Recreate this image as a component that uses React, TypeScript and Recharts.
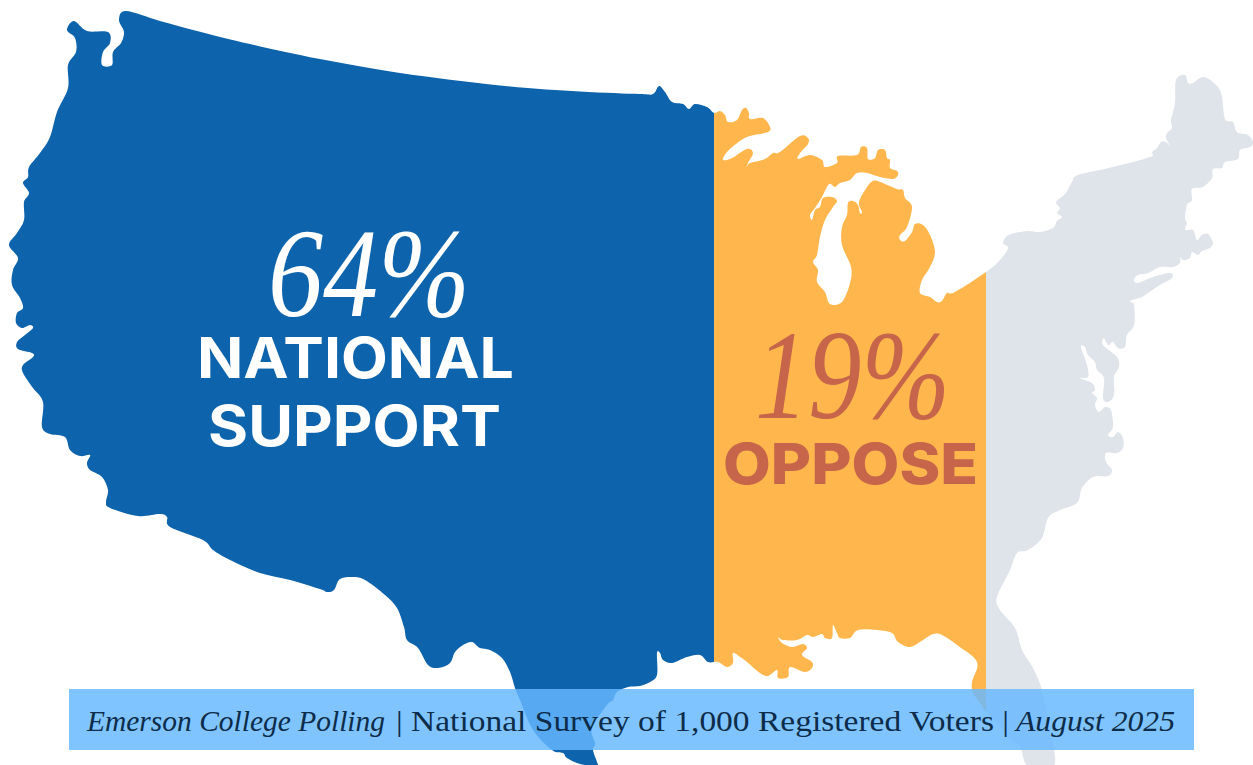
import React from 'react';
import { BarChart, Bar, XAxis, YAxis } from 'recharts';

// share of the map width each band covers (the map is not to scale)
const categories = ['Poll'];
const supportBand = [56.71];
const opposeBand = [21.85];
const restBand = [21.44];

const supportPct = 64;
const opposePct = 19;
const supportLines = ['NATIONAL', 'SUPPORT'];
const opposeLine = 'OPPOSE';
const footerSource = 'Emerson College Polling';
const footerMiddle = '| National Survey of 1,000 Registered Voters |';
const footerDate = 'August 2025';

const BLUE = '#0d63ac';
const ORANGE = '#ffb74d';
const GREY = '#dee4ea';
const RUST = '#c6654a';
const NAVY = '#0c2c4a';

// traced outline of the map, only used as a clip shape for the stacked bar
const outline: [number, number][] = [
  [126, 11], [160, 20.9], [200, 31.7], [250, 44], [320, 59], [400, 72.9], [500, 85.4], [580, 91.5], [640, 94], [653, 94],
  [659, 86], [665, 92], [672, 102], [683, 104], [689, 109], [695, 104], [707, 107], [714, 113], [720, 111], [725, 115],
  [728, 122], [737, 120], [742, 110], [746, 108], [749, 113], [750, 119], [763, 118], [770, 127], [768, 132], [750, 136],
  [740, 141], [727, 152], [723, 160], [732, 158], [747, 149], [753, 153], [748, 163], [747, 167], [750, 163], [765, 159],
  [773, 153], [780, 152], [800, 136], [808, 138], [808, 144], [800, 153], [798, 159], [810, 155], [822, 160], [825, 167],
  [837, 163], [838, 156], [857, 155], [861, 147], [867, 148], [868, 159], [875, 158], [878, 150], [885, 150], [887, 158],
  [890, 160], [890, 168], [897, 171], [898, 175], [893, 179], [880, 177], [867, 173], [857, 173], [850, 180], [840, 183],
  [835, 187], [829, 184], [822, 197], [815, 208], [810, 215], [812, 220], [815, 210], [820, 207], [823, 198], [832, 197],
  [837, 201], [833, 207], [825, 220], [820, 237], [817, 255], [813, 262], [818, 270], [817, 282], [825, 292], [830, 304],
  [842, 302], [850, 283], [851, 267], [842, 245], [842, 227], [847, 215], [848, 203], [853, 201], [858, 205], [860, 213],
  [862, 212], [859, 202], [867, 187], [873, 181], [880, 182], [897, 189], [903, 190], [905, 198], [912, 207], [907, 227],
  [900, 235], [900, 240], [905, 241], [912, 232], [915, 224], [923, 225], [930, 235], [935, 252], [930, 267], [922, 280],
  [920, 293], [930, 297], [937, 302], [942, 301], [947, 293], [955, 292], [986, 272], [1000, 260], [1008, 248], [1003, 243],
  [1007, 236], [1015, 233], [1028, 231], [1040, 232], [1053, 228], [1057, 221], [1062, 217], [1057, 213], [1060, 208], [1056, 202],
  [1065, 194], [1072, 182], [1078, 175], [1113, 167], [1150, 157], [1152, 152], [1157, 148], [1161, 142], [1166, 142], [1170, 146],
  [1166, 138], [1167, 133], [1172, 128], [1171, 120], [1175, 103], [1176, 80], [1185, 75], [1188, 83], [1193, 83], [1200, 78],
  [1207, 78], [1218, 87], [1222, 97], [1225, 119], [1233, 122], [1237, 132], [1248, 135], [1253, 142], [1250, 147], [1240, 150],
  [1238, 159], [1225, 162], [1222, 168], [1213, 169], [1212, 178], [1203, 187], [1192, 189], [1192, 200], [1187, 205], [1185, 218],
  [1187, 223], [1185, 230], [1193, 230], [1197, 240], [1202, 235], [1208, 234], [1213, 243], [1210, 248], [1202, 251], [1198, 255],
  [1192, 252], [1190, 258], [1183, 260], [1180, 257], [1180, 263], [1173, 267], [1160, 267], [1148, 273], [1138, 275], [1134, 280],
  [1138, 283], [1153, 277], [1170, 273], [1172, 278], [1160, 285], [1148, 293], [1142, 297], [1130, 301], [1134, 305], [1134, 325],
  [1127, 335], [1125, 347], [1118, 348], [1113, 342], [1108, 345], [1104, 338], [1103, 345], [1117, 357], [1119, 367], [1114, 377],
  [1114, 395], [1108, 402], [1103, 398], [1104, 378], [1097, 370], [1095, 362], [1088, 355], [1085, 347], [1081, 347], [1087, 365],
  [1088, 377], [1080, 378], [1092, 383], [1095, 390], [1092, 393], [1097, 398], [1095, 405], [1099, 412], [1105, 407], [1111, 410],
  [1113, 427], [1108, 435], [1113, 437], [1118, 432], [1123, 438], [1123, 448], [1117, 453], [1106, 453], [1106, 462], [1112, 470],
  [1108, 476], [1093, 477], [1082, 488], [1077, 503], [1060, 510], [1048, 518], [1042, 538], [1028, 550], [1017, 553], [1010, 570],
  [997, 597], [1000, 610], [1015, 628], [1022, 650], [1033, 668], [1042, 690], [1050, 730], [1054, 766], [1028, 766], [1020, 747],
  [1007, 737], [998, 723], [987, 713], [980, 703], [973, 693], [972, 682], [977, 662], [957, 645], [942, 635], [933, 634],
  [923, 640], [910, 647], [898, 642], [892, 633], [877, 630], [858, 630], [850, 638], [840, 638], [837, 633], [833, 625],
  [832, 638], [825, 638], [822, 634], [813, 637], [807, 635], [797, 640], [783, 640], [778, 637], [782, 643], [792, 647],
  [803, 644], [807, 648], [802, 655], [812, 662], [812, 668], [805, 672], [790, 667], [788, 677], [778, 678], [777, 670],
  [768, 676], [760, 673], [747, 662], [740, 657], [733, 653], [733, 663], [727, 667], [718, 662], [708, 662], [700, 655],
  [687, 657], [672, 663], [663, 660], [660, 653], [657, 653], [657, 675], [650, 682], [640, 686], [628, 687], [617, 692],
  [613, 700], [607, 705], [592, 728], [595, 743], [593, 750], [597, 762], [597, 766], [580, 764], [567, 758], [563, 753],
  [552, 750], [533, 730], [520, 700], [515, 688], [510, 672], [502, 658], [490, 650], [480, 648], [472, 642], [463, 645],
  [455, 652], [450, 663], [438, 668], [428, 665], [418, 648], [407, 640], [404, 627], [397, 608], [385, 595], [365, 580],
  [353, 577], [340, 579], [334, 590], [327, 592], [320, 589], [290, 580], [260, 573], [230, 560], [213, 550], [203, 540],
  [170, 527], [167, 517], [160, 514], [138, 516], [110, 508], [106, 502], [108, 490], [102, 477], [90, 470], [87, 463],
  [90, 455], [80, 456], [70, 450], [65, 437], [50, 434], [42, 427], [43, 402], [33, 388], [23, 373], [23, 365],
  [33, 357], [32, 353], [18, 349], [17, 342], [25, 335], [33, 328], [30, 325], [22, 328], [16, 323], [17, 313],
  [23, 308], [20, 298], [12, 285], [13, 270], [18, 258], [9, 245], [17, 233], [24, 220], [24, 202], [29, 193],
  [23, 183], [28, 177], [29, 167], [40, 153], [50, 137], [57, 112], [68, 88], [68, 65], [76, 52], [75, 38],
  [67, 30], [74, 21], [87, 31], [108, 32], [110, 43], [103, 52], [102, 65], [112, 65], [113, 52], [121, 43],
  [124, 32], [119, 20],
];

// closed catmull-rom through the traced points
function smoothPath(pts: [number, number][]): string {
  const n = pts.length;
  let d = `M${pts[0][0]},${pts[0][1]}`;
  for (let i = 0; i < n; i++) {
    const p0 = pts[(i - 1 + n) % n];
    const p1 = pts[i];
    const p2 = pts[(i + 1) % n];
    const p3 = pts[(i + 2) % n];
    const c1x = p1[0] + (p2[0] - p0[0]) / 6;
    const c1y = p1[1] + (p2[1] - p0[1]) / 6;
    const c2x = p2[0] - (p3[0] - p1[0]) / 6;
    const c2y = p2[1] - (p3[1] - p1[1]) / 6;
    d += `C${c1x.toFixed(1)},${c1y.toFixed(1)} ${c2x.toFixed(1)},${c2y.toFixed(1)} ${p2[0]},${p2[1]}`;
  }
  return d + 'Z';
}

const data = categories.map((name, i) => ({
  name,
  support: supportBand[i],
  oppose: opposeBand[i],
  rest: restBand[i],
}));

const ClippedBand = ({ x, y, width, height, fill }: any) => (
  <rect x={x} y={y} width={width} height={height} fill={fill} clipPath="url(#usaClip)" />
);

const NUM_FONT = '"Liberation Serif", serif';
const HEAD_FONT = 'Inter, "Open Sans", sans-serif';

export default function App() {
  return (
    <div style={{ position: 'absolute', left: 0, top: 0, width: 1253, height: 765, overflow: 'hidden', background: '#fff' }}>
      <BarChart
        width={1253}
        height={765}
        data={data}
        layout="vertical"
        barCategoryGap={0}
        margin={{ top: 0, right: 0, bottom: 0, left: 8 }}
      >
        <defs>
          <clipPath id="usaClip">
            <path d={smoothPath(outline)} />
          </clipPath>
        </defs>
        <XAxis type="number" domain={[0, 100]} hide />
        <YAxis type="category" dataKey="name" hide />
        <Bar dataKey="support" stackId="a" fill={BLUE} shape={ClippedBand} isAnimationActive={false} />
        <Bar dataKey="oppose" stackId="a" fill={ORANGE} shape={ClippedBand} isAnimationActive={false} />
        <Bar dataKey="rest" stackId="a" fill={GREY} shape={ClippedBand} isAnimationActive={false} />
      </BarChart>

      {/* recharts draws its series above svg children, so the captions sit on their own layer */}
      <svg width={1253} height={765} style={{ position: 'absolute', left: 0, top: 0 }}>
        <text x={268} y={316} fontFamily={NUM_FONT} fontStyle="italic" fontSize={128} fill="#fff" textLength={202} lengthAdjust="spacingAndGlyphs">
          {supportPct}%
        </text>
        <text x={197} y={378} fontFamily={HEAD_FONT} fontWeight={700} fontSize={56} fill="#fff" textLength={317} lengthAdjust="spacingAndGlyphs">
          {supportLines[0]}
        </text>
        <text x={208} y={446} fontFamily={HEAD_FONT} fontWeight={700} fontSize={56} fill="#fff" textLength={293} lengthAdjust="spacingAndGlyphs">
          {supportLines[1]}
        </text>
        <text x={755} y={418} fontFamily={NUM_FONT} fontStyle="italic" fontSize={128} fill={RUST} textLength={195} lengthAdjust="spacingAndGlyphs">
          {opposePct}%
        </text>
        <text x={723} y={484} fontFamily={HEAD_FONT} fontWeight={800} fontSize={56} fill={RUST} textLength={255} lengthAdjust="spacingAndGlyphs">
          {opposeLine}
        </text>

        <rect x={69} y={689} width={1125} height={61} fill="#66b8ff" fillOpacity={0.83} />
        <text x={87} y={731} fontFamily={NUM_FONT} fontStyle="italic" fontSize={29} fill={NAVY} textLength={298} lengthAdjust="spacingAndGlyphs">
          {footerSource}
        </text>
        <text x={396} y={731} fontFamily={NUM_FONT} fontSize={29} fill={NAVY} textLength={613} lengthAdjust="spacingAndGlyphs">
          {footerMiddle}
        </text>
        <text x={1016} y={731} fontFamily={NUM_FONT} fontStyle="italic" fontSize={29} fill={NAVY} textLength={159} lengthAdjust="spacingAndGlyphs">
          {footerDate}
        </text>
      </svg>
    </div>
  );
}
